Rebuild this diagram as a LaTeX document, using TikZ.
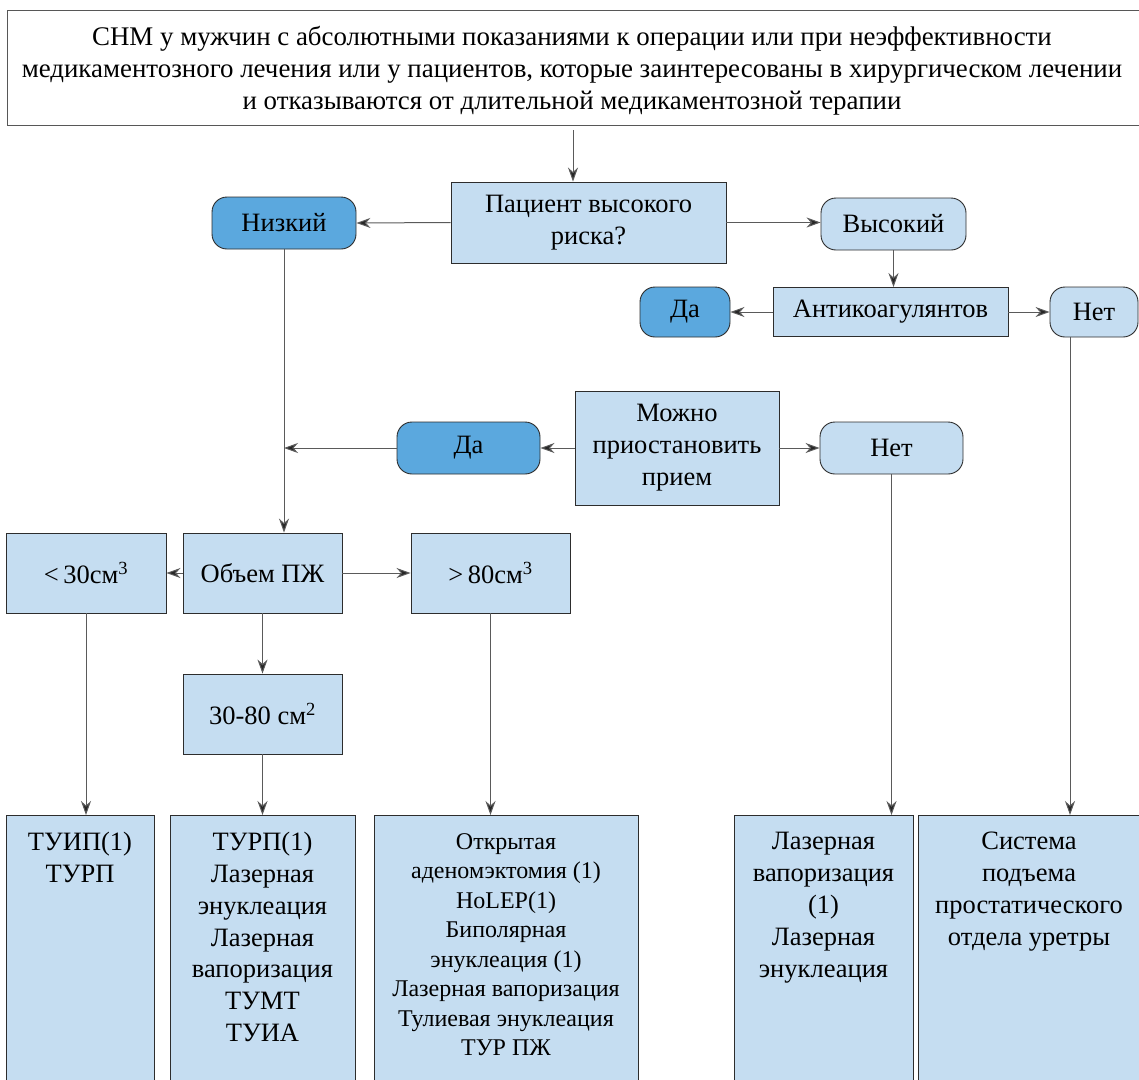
\documentclass[tikz,border=0pt]{standalone}
\usepackage{fontspec}
\setmainfont{Liberation Serif}
\usetikzlibrary{arrows.meta}
\definecolor{lightbox}{RGB}{197,221,241}
\definecolor{darkbox}{RGB}{91,168,222}
\definecolor{edge}{RGB}{45,45,45}
\definecolor{conn}{RGB}{90,90,90}
\tikzset{
  box/.style={draw=edge, line width=0.9pt, fill=lightbox, align=center, inner sep=0pt, font=\fontsize{26.5}{32}\selectfont},
  pill/.style={box, rounded corners=15pt},
  pilldark/.style={pill, fill=darkbox},
  conn/.style={draw=conn, line width=1pt, -{Stealth[length=14pt,width=10pt,inset=4.5pt,fill=black!85]}},
  txt/.style={align=center, inner sep=0pt, anchor=north},
}
\begin{document}
\begin{tikzpicture}[x=1pt,y=-1pt]
\useasboundingbox (0,0) rectangle (1139,1079);
% top box
\node[box, fill=white, draw=edge!80, minimum width=1145, minimum height=115, anchor=north west] (top) at (7,10) {};
\node[txt, anchor=center, font=\fontsize{26.9}{32}\selectfont] (toptxt) at (572,71) {СНМ у мужчин с абсолютными показаниями к операции или при неэффективности\\медикаментозного лечения или у пациентов, которые заинтересованы в хирургическом лечении\\и отказываются от длительной медикаментозной терапии};
% row 1
\node[box, minimum width=275, minimum height=81] (pat) at (588.5,222.5) {Пациент высокого\\риска?};
\node[pilldark, minimum width=144, minimum height=52] (low) at (284,223) {Низкий};
\node[pill, minimum width=145, minimum height=52] (high) at (893.5,224) {Высокий};
% row 2
\node[box, minimum width=235, minimum height=49] (anti) at (890.5,312) {Антикоагулянтов};
\node[pilldark, minimum width=90, minimum height=50] (yes1) at (685,312) {Да};
\node[pill, minimum width=88, minimum height=50] (no1) at (1094,312) {Нет};
% row 3
\node[box, minimum width=204, minimum height=114] (stop) at (677,448) {Можно\\приостановить\\прием};
\node[pilldark, minimum width=143, minimum height=52] (yes2) at (468.5,448) {Да};
\node[pill, minimum width=143, minimum height=52] (no2) at (891.5,448) {Нет};
% row 4
\node[box, minimum width=159, minimum height=80] (vol) at (262.5,573) {Объем ПЖ};
\node[box, minimum width=160, minimum height=80] (lt) at (86,573) {<\,30см\textsuperscript{3}};
\node[box, minimum width=159, minimum height=80] (gt) at (490.5,573) {>\,80см\textsuperscript{3}};
\node[box, minimum width=159, minimum height=80] (mid) at (262.5,714) {30-80 см\textsuperscript{2}};
% bottom boxes
\node[box, minimum width=148, minimum height=300, anchor=north west] (b1) at (6,815) {};
\node[box, minimum width=185, minimum height=300, anchor=north west] (b2) at (170,815) {};
\node[box, minimum width=264, minimum height=300, anchor=north west] (b3) at (374,815) {};
\node[box, minimum width=179, minimum height=300, anchor=north west] (b4) at (734,815) {};
\node[box, minimum width=240, minimum height=300, anchor=north west] (b5) at (918,815) {};
\node[txt, font=\fontsize{26.5}{32}\selectfont] (t1) at (80,832) {ТУИП(1)\\ТУРП};
\node[txt, font=\fontsize{26.5}{31.8}\selectfont] (t2) at (262.5,832) {ТУРП(1)\\Лазерная\\энуклеация\\Лазерная\\вапоризация\\ТУМТ\\ТУИА};
\node[txt, font=\fontsize{24}{29.5}\selectfont] (t3) at (506,833) {Открытая\\аденомэктомия (1)\\HoLEP(1)\\Биполярная\\энуклеация (1)\\Лазерная вапоризация\\Тулиевая энуклеация\\ТУР ПЖ};
\node[txt, font=\fontsize{26.5}{32}\selectfont] (t4) at (823.5,832) {Лазерная\\вапоризация\\(1)\\Лазерная\\энуклеация};
\node[txt, font=\fontsize{26.5}{32}\selectfont] (t5) at (1029,832) {Система\\подъема\\простатического\\отдела уретры};
% connectors
\coordinate (topout) at (573,130);
\draw[conn] (topout) -- (topout |- pat.north);
\draw[conn] (pat.west) -- (low.east);
\draw[conn] (pat.east) -- (high.west |- pat.east);
\draw[conn] (high.south) -- (high.south |- anti.north);
\draw[conn] (anti.west) -- (yes1.east);
\draw[conn] (anti.east) -- (no1.west);
\draw[conn] (low.south) -- (low.south |- vol.north);
\draw[conn] (stop.west) -- (yes2.east);
\draw[conn] (stop.east) -- (no2.west);
\draw[conn] (yes2.west) -- (yes2.west -| low.south);
\draw[conn] (vol.west) -- (lt.east);
\draw[conn] (vol.east) -- (gt.west);
\draw[conn] (vol.south) -- (mid.north);
\draw[conn] (lt.south) -- (lt.south |- b1.north);
\draw[conn] (mid.south) -- (mid.south |- b2.north);
\draw[conn] (gt.south) -- (gt.south |- b3.north);
\draw[conn] (no2.south) -- (no2.south |- b4.north);
\coordinate (no1out) at (1070,337);
\draw[conn] (no1out) -- (no1out |- b5.north);
\end{tikzpicture}
\end{document}
